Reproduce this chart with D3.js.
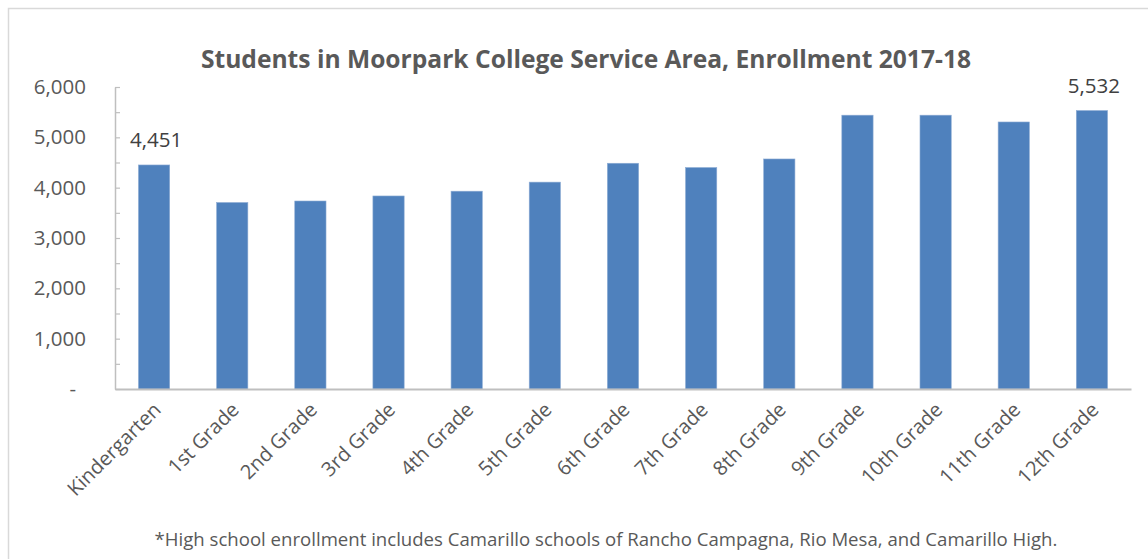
<!DOCTYPE html>
<html>
<head>
<meta charset="utf-8">
<script src="https://cdn.jsdelivr.net/npm/d3@7"></script>
<style>
  body { margin: 0; background: #fff; }
  text { font-family: "Open Sans", "Liberation Sans", sans-serif; }
</style>
</head>
<body>
<div id="chart"></div>
<script>
// chart values
const grades = ["Kindergarten", "1st Grade", "2nd Grade", "3rd Grade", "4th Grade", "5th Grade",
  "6th Grade", "7th Grade", "8th Grade", "9th Grade", "10th Grade", "11th Grade", "12th Grade"];
const enrollment = [4451, 3705, 3735, 3835, 3930, 4110, 4485, 4400, 4570, 5440, 5440, 5305, 5532];
const yTicks = [0, 500, 1000, 1500, 2000, 2500, 3000, 3500, 4000, 4500, 5000, 5500, 6000];
const labelled = ["Kindergarten", "12th Grade"];

const width = 1148, height = 559;
const plot = {left: 115, right: 1131, top: 87, bottom: 389};

let svg = d3.select("#chart")
    .append("svg")
    .attr("width", width)
    .attr("height", height);

// chart area frame
svg.append("rect")
    .attr("x", 8.5).attr("y", 8.5)
    .attr("width", width + 20).attr("height", height + 20)
    .attr("fill", "none")
    .attr("stroke", "#d9d9d9")
    .attr("stroke-width", 1.5);

let x = d3.scaleBand()
    .domain(grades)
    .range([plot.left, plot.right])
    .paddingInner(0.6)
    .paddingOuter(0.3);

let y = d3.scaleLinear()
    .domain([0, 6000])
    .range([plot.bottom, plot.top]);

// title
svg.append("text")
    .attr("x", 586)
    .attr("y", 68)
    .style("text-anchor", "middle")
    .style("font-size", "24.6px")
    .style("font-weight", "bold")
    .attr("fill", "#595959")
    .text("Students in Moorpark College Service Area, Enrollment 2017-18");

// y axis - ticks every 500 pointing inward, labels every 1000
let yAxis = svg.append("g")
    .attr("transform", `translate(${plot.left},0)`)
    .call(d3.axisLeft(y)
        .tickValues(yTicks)
        .tickSizeInner(-5)
        .tickSizeOuter(0)
        .tickPadding(29)
        .tickFormat(d => d === 0 ? "-" : (d % 1000 === 0 ? d3.format(",")(d) : "")));
yAxis.select(".domain").attr("stroke", "#bfbfbf").attr("stroke-width", 1.5);
yAxis.selectAll(".tick line").attr("stroke", "#bfbfbf").attr("stroke-width", 1.2);
yAxis.selectAll(".tick text")
    .attr("fill", "#595959")
    .style("font-size", "20.5px")
    .attr("dx", d => d === 0 ? -10 : 0);

// bars
svg.append("g").selectAll("rect")
    .data(enrollment)
    .enter()
    .append("rect")
    .attr("x", (d, i) => x(grades[i]))
    .attr("y", d => y(d))
    .attr("width", x.bandwidth())
    .attr("height", d => y(0) - y(d))
    .attr("fill", "#4f81bd")
    .attr("stroke", "#8eacd4")
    .attr("stroke-width", 0.6);

// x axis
let xAxis = svg.append("g")
    .attr("transform", `translate(0,${plot.bottom})`)
    .call(d3.axisBottom(x).tickSize(0).tickSizeOuter(0));
xAxis.select(".domain").attr("stroke", "#bfbfbf").attr("stroke-width", 2);
xAxis.selectAll(".tick text")
    .attr("x", 0).attr("y", 0).attr("dy", 0)
    .attr("transform", "translate(8,22) rotate(-45)")
    .style("text-anchor", "end")
    .style("font-size", "20px")
    .attr("fill", "#595959");

// data labels on first and last bar
svg.append("g").selectAll("text")
    .data(grades.filter(g => labelled.includes(g)))
    .enter()
    .append("text")
    .attr("x", g => x(g) + x.bandwidth() / 2 + 2)
    .attr("y", g => y(enrollment[grades.indexOf(g)]) - 18)
    .style("text-anchor", "middle")
    .style("font-size", "20.5px")
    .attr("fill", "#404040")
    .text(g => d3.format(",")(enrollment[grades.indexOf(g)]));

// footnote
svg.append("text")
    .attr("x", 606)
    .attr("y", 546)
    .style("text-anchor", "middle")
    .style("font-size", "18.6px")
    .attr("fill", "#595959")
    .text("*High school enrollment includes Camarillo schools of Rancho Campagna, Rio Mesa, and Camarillo High.");
</script>
</body>
</html>
